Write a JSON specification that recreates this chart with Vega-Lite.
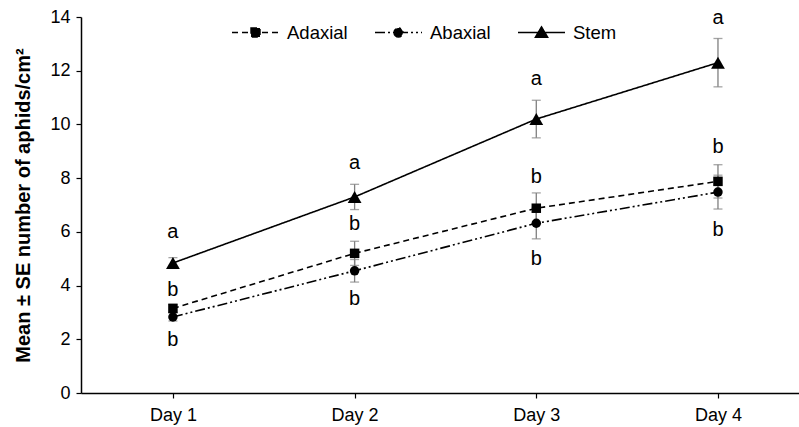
{
  "$schema": "https://vega.github.io/schema/vega-lite/v6.json",
  "width": 718,
  "height": 376,
  "autosize": "none",
  "padding": {"left": 81, "top": 17, "right": 0, "bottom": 34},
  "background": "white",
  "config": {
    "view": {"stroke": null},
    "font": "Liberation Sans",
    "axis": {
      "domainColor": "black",
      "domainWidth": 1.5,
      "tickColor": "black",
      "tickWidth": 1.2,
      "tickSize": 5,
      "labelColor": "black",
      "labelFont": "Liberation Sans",
      "labelFontSize": 18,
      "grid": false,
      "titleColor": "black",
      "titleFont": "Liberation Sans"
    }
  },
  "datasets": {
    "means": [
      {"series": "Adaxial", "day": 1, "mean": 3.15, "se": 0.15},
      {"series": "Adaxial", "day": 2, "mean": 5.2, "se": 0.45},
      {"series": "Adaxial", "day": 3, "mean": 6.88, "se": 0.57},
      {"series": "Adaxial", "day": 4, "mean": 7.88, "se": 0.62},
      {"series": "Abaxial", "day": 1, "mean": 2.83, "se": 0.15},
      {"series": "Abaxial", "day": 2, "mean": 4.55, "se": 0.42},
      {"series": "Abaxial", "day": 3, "mean": 6.32, "se": 0.58},
      {"series": "Abaxial", "day": 4, "mean": 7.48, "se": 0.63},
      {"series": "Stem", "day": 1, "mean": 4.84, "se": 0.2},
      {"series": "Stem", "day": 2, "mean": 7.3, "se": 0.47},
      {"series": "Stem", "day": 3, "mean": 10.2, "se": 0.7},
      {"series": "Stem", "day": 4, "mean": 12.3, "se": 0.9}
    ],
    "letters": [
      {"day": 1, "pos": 6.0, "letter": "a"},
      {"day": 1, "pos": 3.85, "letter": "b"},
      {"day": 1, "pos": 1.97, "letter": "b"},
      {"day": 2, "pos": 8.55, "letter": "a"},
      {"day": 2, "pos": 6.3, "letter": "b"},
      {"day": 2, "pos": 3.5, "letter": "b"},
      {"day": 3, "pos": 11.7, "letter": "a"},
      {"day": 3, "pos": 8.05, "letter": "b"},
      {"day": 3, "pos": 5.0, "letter": "b"},
      {"day": 4, "pos": 13.95, "letter": "a"},
      {"day": 4, "pos": 9.15, "letter": "b"},
      {"day": 4, "pos": 6.07, "letter": "b"}
    ]
  },
  "encoding": {
    "x": {
      "field": "day",
      "type": "quantitative",
      "scale": {"domain": [0.494, 4.446], "nice": false, "zero": false},
      "axis": {"values": [1, 2, 3, 4], "labelExpr": "'Day ' + datum.value", "title": null, "labelPadding": 8}
    }
  },
  "layer": [
    {
      "data": {"name": "means"},
      "mark": {"type": "errorbar", "ticks": {"size": 9}, "color": "#7f7f7f", "thickness": 1.3},
      "encoding": {
        "y": {"field": "mean", "type": "quantitative", "title": "Mean ± SE number of aphids/cm²"},
        "yError": {"field": "se"}
      }
    },
    {
      "data": {"name": "means"},
      "mark": {"type": "line", "color": "black", "strokeWidth": 1.6},
      "encoding": {
        "y": {
          "field": "mean",
          "type": "quantitative",
          "title": "Mean ± SE number of aphids/cm²",
          "scale": {"domain": [0, 14], "nice": false},
          "axis": {"values": [0, 2, 4, 6, 8, 10, 12, 14], "titleFontSize": 20, "titleFontWeight": "bold", "labelPadding": 6, "titlePadding": 16}
        },
        "strokeDash": {
          "field": "series",
          "type": "nominal",
          "scale": {"domain": ["Adaxial", "Abaxial", "Stem"], "range": [[6, 4], [10, 3, 2, 3, 2, 3], [1, 0]]},
          "legend": {
            "orient": "none",
            "legendX": 150,
            "legendY": -9,
            "direction": "horizontal",
            "title": null,
            "labelFontSize": 18.5,
            "labelColor": "black",
            "labelFont": "Liberation Sans",
            "symbolSize": 2209,
            "symbolStrokeWidth": 1.5,
            "symbolStrokeColor": "black",
            "symbolFillColor": "black",
            "columnPadding": 24,
            "labelOffset": 7,
            "encode": {
              "symbols": {
                "update": {
                  "shape": {"signal": "datum.value === 'Adaxial' ? 'M-1,0H1M-0.19,-0.19H0.19V0.19H-0.19Z' : datum.value === 'Abaxial' ? 'M-1,0H1M-0.19,0A0.19,0.19 0 1,0 0.19,0A0.19,0.19 0 1,0 -0.19,0Z' : 'M-1,0H1M0,-0.24L0.26,0.2L-0.26,0.2Z'"},
                  "fill": {"value": "black"},
                  "stroke": {"value": "black"},
                  "strokeWidth": {"value": 1.5},
                  "opacity": {"value": 1},
                  "strokeOpacity": {"value": 1},
                  "size": {"value": 2209}
                }
              }
            }
          }
        }
      }
    },
    {
      "data": {"name": "means"},
      "transform": [{"filter": "datum.series === 'Adaxial'"}],
      "mark": {"type": "point", "shape": "square", "filled": true, "color": "black", "opacity": 1, "size": 90},
      "encoding": {
        "y": {"field": "mean", "type": "quantitative", "title": "Mean ± SE number of aphids/cm²"}
      }
    },
    {
      "data": {"name": "means"},
      "transform": [{"filter": "datum.series === 'Abaxial'"}],
      "mark": {"type": "point", "shape": "circle", "filled": true, "color": "black", "opacity": 1, "size": 90},
      "encoding": {
        "y": {"field": "mean", "type": "quantitative", "title": "Mean ± SE number of aphids/cm²"}
      }
    },
    {
      "data": {"name": "means"},
      "transform": [{"filter": "datum.series === 'Stem'"}],
      "mark": {"type": "point", "shape": "triangle-up", "filled": true, "color": "black", "opacity": 1, "size": 190},
      "encoding": {
        "y": {"field": "mean", "type": "quantitative", "title": "Mean ± SE number of aphids/cm²"}
      }
    },
    {
      "data": {"name": "letters"},
      "mark": {"type": "text", "fontSize": 20, "color": "black", "font": "Liberation Sans", "baseline": "middle"},
      "encoding": {
        "y": {"field": "pos", "type": "quantitative", "title": "Mean ± SE number of aphids/cm²"},
        "text": {"field": "letter"}
      }
    }
  ]
}
